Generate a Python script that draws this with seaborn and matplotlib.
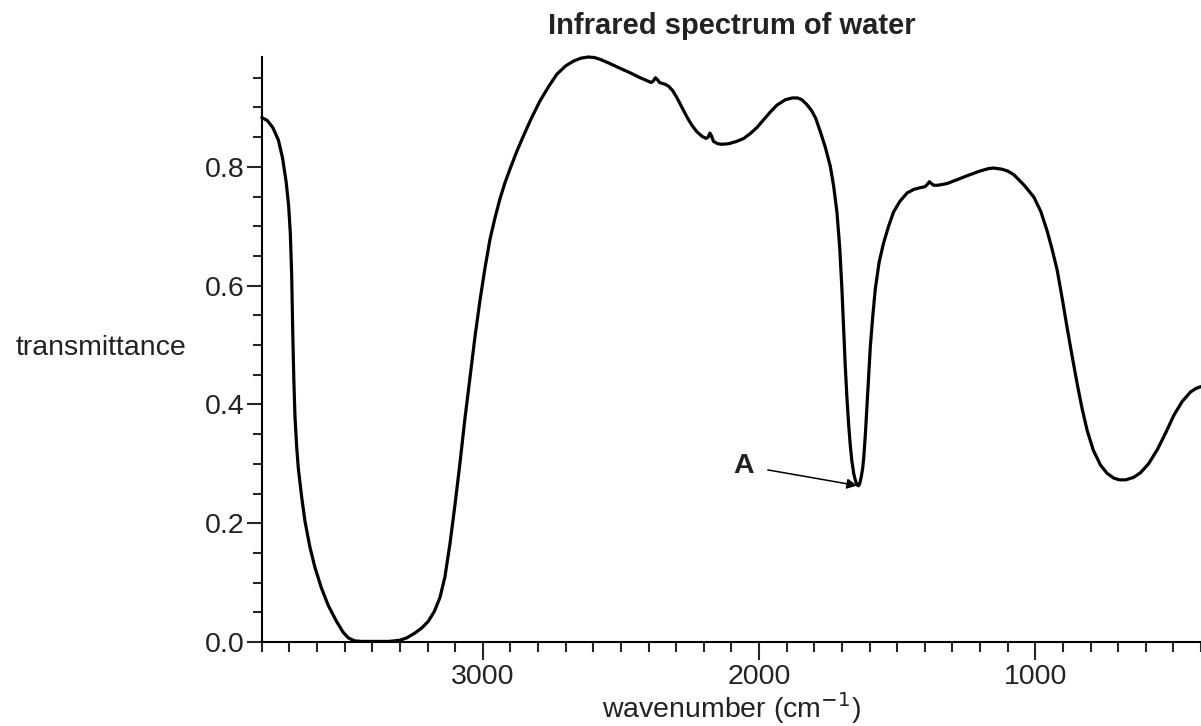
import numpy as np
import pandas as pd
import seaborn as sns
import matplotlib.pyplot as plt
from matplotlib.ticker import MultipleLocator

# spectrum (wavenumber in cm-1, transmittance)
wavenumber = [3800, 3780, 3760, 3740, 3725, 3712, 3703, 3697, 3692, 3688,
              3684, 3680, 3674, 3668, 3656, 3644, 3626, 3608, 3585, 3560,
              3530, 3505, 3487, 3465, 3440, 3400, 3340, 3300, 3275, 3246,
              3220, 3197, 3175, 3155, 3137, 3119, 3101, 3083, 3065, 3046,
              3028, 3010, 2992, 2974, 2956, 2938, 2920, 2901, 2877, 2853,
              2823, 2793, 2762, 2732, 2700, 2672, 2645, 2618, 2595, 2575,
              2540, 2503, 2465, 2430, 2400, 2390, 2382, 2375, 2368, 2360,
              2340, 2328, 2312, 2298, 2280, 2261, 2243, 2225, 2205, 2192,
              2184, 2178, 2172, 2165, 2150, 2134, 2110, 2080, 2055, 2032,
              2008, 1984, 1960, 1935, 1905, 1880, 1860, 1845, 1827, 1810,
              1795, 1778, 1760, 1742, 1730, 1718, 1708, 1700, 1694, 1688,
              1682, 1676, 1670, 1664, 1657, 1650, 1644, 1640, 1636, 1630,
              1625, 1621, 1615, 1609, 1603, 1597, 1588, 1579, 1565, 1549,
              1531, 1513, 1490, 1464, 1440, 1416, 1405, 1398, 1390, 1383,
              1376, 1368, 1355, 1340, 1319, 1285, 1247, 1200, 1170, 1150,
              1120, 1100, 1078, 1040, 1005, 980, 957, 940, 921, 903,
              885, 866, 848, 830, 812, 790, 764, 740, 716, 695,
              673, 645, 619, 590, 558, 528, 498, 468, 438, 418,
              400]
transmittance = [0.883, 0.878, 0.866, 0.845, 0.815, 0.775, 0.735, 0.690, 0.620, 0.520,
                 0.440, 0.380, 0.330, 0.293, 0.245, 0.204, 0.160, 0.126, 0.092, 0.062,
                 0.035, 0.016, 0.007, 0.002, 0.001, 0.001, 0.001, 0.003, 0.007, 0.015,
                 0.024, 0.035, 0.052, 0.075, 0.110, 0.165, 0.230, 0.300, 0.375, 0.447,
                 0.515, 0.576, 0.630, 0.678, 0.714, 0.746, 0.773, 0.797, 0.826, 0.852,
                 0.883, 0.911, 0.935, 0.956, 0.970, 0.978, 0.983, 0.985, 0.984, 0.981,
                 0.974, 0.966, 0.958, 0.950, 0.944, 0.942, 0.945, 0.950, 0.947, 0.942,
                 0.939, 0.936, 0.928, 0.917, 0.901, 0.884, 0.870, 0.859, 0.851, 0.848,
                 0.850, 0.857, 0.852, 0.843, 0.839, 0.838, 0.839, 0.843, 0.848, 0.856,
                 0.866, 0.879, 0.892, 0.904, 0.913, 0.916, 0.916, 0.913, 0.905, 0.895,
                 0.882, 0.859, 0.833, 0.801, 0.768, 0.724, 0.665, 0.595, 0.530, 0.466,
                 0.413, 0.369, 0.333, 0.305, 0.283, 0.270, 0.264, 0.263, 0.266, 0.278,
                 0.292, 0.310, 0.350, 0.400, 0.450, 0.498, 0.550, 0.595, 0.640, 0.672,
                 0.700, 0.724, 0.742, 0.756, 0.762, 0.765, 0.766, 0.767, 0.771, 0.775,
                 0.772, 0.769, 0.769, 0.770, 0.772, 0.778, 0.785, 0.793, 0.797, 0.798,
                 0.796, 0.793, 0.787, 0.769, 0.749, 0.725, 0.692, 0.663, 0.627, 0.580,
                 0.530, 0.480, 0.434, 0.392, 0.356, 0.323, 0.298, 0.284, 0.276, 0.273,
                 0.273, 0.277, 0.285, 0.300, 0.324, 0.352, 0.382, 0.405, 0.421, 0.427,
                 0.430]

df = pd.DataFrame({"wavenumber": wavenumber, "transmittance": transmittance})

sns.set_style("ticks")
plt.rcParams['font.family'] = ['Liberation Sans', 'DejaVu Sans']

fig = plt.figure(figsize=(12.01, 7.26), dpi=100)
ax = fig.add_axes([0.218, 0.1157, 0.782, 0.8058])

sns.lineplot(data=df, x="wavenumber", y="transmittance", ax=ax,
             color="black", linewidth=2.3, sort=False, clip_on=False)

ax.set_xlim(3800, 400)
ax.set_ylim(0, 0.985)
sns.despine(ax=ax)
for side in ["left", "bottom"]:
    ax.spines[side].set_linewidth(1.5)
    ax.spines[side].set_color("black")

ax.xaxis.set_major_locator(MultipleLocator(1000))
ax.xaxis.set_minor_locator(MultipleLocator(100))
ax.yaxis.set_major_locator(MultipleLocator(0.2))
ax.yaxis.set_minor_locator(MultipleLocator(0.05))
ax.set_yticks([0.0, 0.2, 0.4, 0.6, 0.8])
ax.set_yticklabels(["0.0", "0.2", "0.4", "0.6", "0.8"])
ax.set_xticks([3000, 2000, 1000])
ax.tick_params(axis="x", which="major", length=13, width=1.5, labelsize=20.5,
               labelcolor="#222222", pad=3)
ax.tick_params(axis="x", which="minor", length=7, width=1.5)
ax.tick_params(axis="y", which="major", length=10.5, width=1.5, labelsize=20.5,
               labelcolor="#222222", pad=2)
ax.tick_params(axis="y", which="minor", length=6.5, width=1.5)

ax.set_xlabel("wavenumber (cm$^{-1}$)", fontsize=20.5, color="#222222", labelpad=0)
ax.set_ylabel("transmittance", fontsize=20.5, color="#222222", rotation=0,
              ha="right", va="center")
ax.yaxis.set_label_coords(-0.080, 0.503)
ax.set_title("Infrared spectrum of water", fontsize=21, fontweight="bold",
             color="#222222", pad=16.5)

ax.annotate("A", xy=(1640, 0.263), xytext=(2057, 0.297),
            fontsize=20.5, fontweight="bold", color="#222222",
            ha="center", va="center",
            arrowprops=dict(arrowstyle="-|>", color="black", lw=1.1,
                            mutation_scale=15, shrinkA=8, shrinkB=1))

fig.savefig("out.png", dpi=100)
